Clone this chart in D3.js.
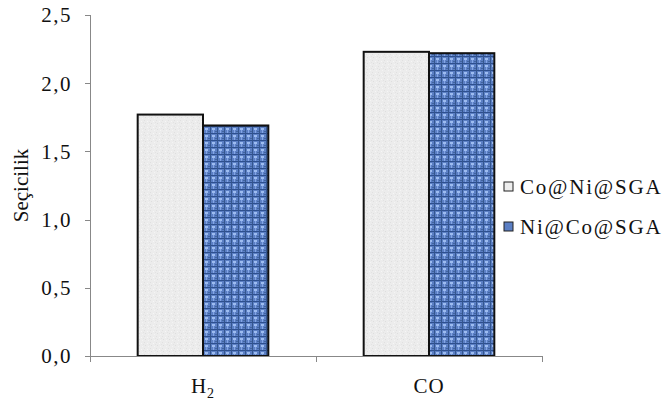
<!DOCTYPE html>
<html>
<head>
<meta charset="utf-8">
<script src="https://cdn.jsdelivr.net/npm/d3@7"></script>
<style>
  body { margin: 0; background: #fff; }
  svg text { font-family: "Liberation Serif", "Times New Roman", serif; }
</style>
</head>
<body>
<div id="chart"></div>
<script>
var categories = ['H2', 'CO'];
var seriesNames = ['Co@Ni@SGA', 'Ni@Co@SGA'];
var coNiValues = [1.77, 2.23];
var niCoValues = [1.69, 2.22];
var yTicks = [0, 0.5, 1.0, 1.5, 2.0, 2.5];

var width = 667, height = 403;
var margin = {left: 90, right: 125, top: 15, bottom: 47};

var svg = d3.select('#chart').append('svg')
    .attr('width', width)
    .attr('height', height);

// textures
var defs = svg.append('defs');
var gp = defs.append('pattern').attr('id', 'grayTex')
    .attr('patternUnits', 'userSpaceOnUse').attr('width', 6).attr('height', 6);
gp.append('rect').attr('width', 6).attr('height', 6).attr('fill', '#ececec');
[[0, 0, '#e0e0e0'], [3, 1, '#f6f6f6'], [1, 3, '#dedede'], [4, 4, '#f4f4f4'], [5, 2, '#e3e3e3']].forEach(function(d) {
  gp.append('rect').attr('x', d[0]).attr('y', d[1]).attr('width', 1).attr('height', 1).attr('fill', d[2]);
});

var bp = defs.append('pattern').attr('id', 'blueTex')
    .attr('patternUnits', 'userSpaceOnUse').attr('width', 7).attr('height', 7);
bp.append('rect').attr('width', 7).attr('height', 7).attr('fill', '#5b7fc4');
bp.append('rect').attr('x', 0).attr('y', 0).attr('width', 7).attr('height', 1).attr('fill', '#2d4f8e');
bp.append('rect').attr('x', 0).attr('y', 0).attr('width', 1).attr('height', 7).attr('fill', '#34568f');
bp.append('rect').attr('x', 2).attr('y', 2).attr('width', 3).attr('height', 2).attr('fill', '#9dbcf0');
bp.append('rect').attr('x', 3).attr('y', 4).attr('width', 1).attr('height', 3).attr('fill', '#84a6e6');
bp.append('rect').attr('x', 5).attr('y', 5).attr('width', 2).attr('height', 1).attr('fill', '#41649f');

var fills = ['url(#grayTex)', 'url(#blueTex)'];
var legendFills = ['#eeeeee', '#5b7fc4'];

var x = d3.scaleBand()
    .domain(categories)
    .range([margin.left, width - margin.right]);

var xInner = d3.scaleBand()
    .domain(seriesNames)
    .range([0, x.bandwidth()])
    .paddingInner(0)
    .paddingOuter(0.73);

var y = d3.scaleLinear()
    .domain([0, 2.5])
    .range([height - margin.bottom, margin.top]);

// axes
var axisColor = '#888';
svg.append('line')
    .attr('x1', margin.left + 0.5).attr('x2', margin.left + 0.5)
    .attr('y1', y(2.5)).attr('y2', y(0))
    .attr('stroke', axisColor);

svg.selectAll('.ytick').data(yTicks).enter().append('line')
    .attr('x1', margin.left - 5).attr('x2', margin.left)
    .attr('y1', function(d) { return Math.round(y(d)) + 0.5; })
    .attr('y2', function(d) { return Math.round(y(d)) + 0.5; })
    .attr('stroke', axisColor);

svg.selectAll('.ylab').data(yTicks).enter().append('text')
    .attr('x', 72)
    .attr('y', function(d) { return y(d); })
    .attr('dy', '0.35em')
    .attr('text-anchor', 'end')
    .attr('font-size', 21)
    .attr('letter-spacing', 1.5)
    .attr('fill', '#111')
    .text(function(d) { return d3.format('.1f')(d).replace('.', ','); });

// bars
var series = [coNiValues, niCoValues];
series.forEach(function(vals, si) {
  svg.selectAll('.bar' + si).data(categories).enter().append('rect')
      .attr('x', function(c) { return x(c) + xInner(seriesNames[si]); })
      .attr('y', function(c, i) { return y(vals[i]); })
      .attr('width', xInner.bandwidth())
      .attr('height', function(c, i) { return y(0) - y(vals[i]); })
      .attr('fill', fills[si])
      .attr('stroke', '#111')
      .attr('stroke-width', 2);
});

// x axis
svg.append('line')
    .attr('x1', margin.left).attr('x2', width - margin.right)
    .attr('y1', Math.round(y(0)) + 0.5).attr('y2', Math.round(y(0)) + 0.5)
    .attr('stroke', axisColor);

var xTickPos = [margin.left].concat(categories.map(function(c) { return x(c) + x.bandwidth(); }));
svg.selectAll('.xtick').data(xTickPos).enter().append('line')
    .attr('x1', function(d) { return Math.round(d) + 0.5; })
    .attr('x2', function(d) { return Math.round(d) + 0.5; })
    .attr('y1', y(0)).attr('y2', y(0) + 6)
    .attr('stroke', axisColor);

var xl = svg.selectAll('.xlab').data(categories).enter().append('text')
    .attr('x', function(c) { return x(c) + x.bandwidth() / 2; })
    .attr('y', y(0) + 37)
    .attr('text-anchor', 'middle')
    .attr('font-size', 21)
    .attr('letter-spacing', 1)
    .attr('fill', '#111');
xl.each(function(c) {
  var t = d3.select(this);
  if (c === 'H2') {
    t.append('tspan').text('H');
    t.append('tspan').attr('font-size', 14).attr('dy', 5).text('2');
  } else {
    t.text(c);
  }
});

// y title
svg.append('text')
    .attr('transform', 'translate(21,' + (y(1.25)) + ') rotate(-90)')
    .attr('text-anchor', 'middle')
    .attr('dy', '0.35em')
    .attr('font-size', 21)
    .attr('fill', '#111')
    .text('Seçicilik');

// legend
var legend = svg.selectAll('.legend').data(seriesNames).enter().append('g')
    .attr('transform', function(d, i) { return 'translate(504,' + (182 + i * 40) + ')'; });
legend.append('rect')
    .attr('width', 9).attr('height', 9)
    .attr('fill', function(d, i) { return legendFills[i]; })
    .attr('stroke', '#222');
legend.append('text')
    .attr('x', 16).attr('y', 5)
    .attr('dy', '0.35em')
    .attr('font-size', 21)
    .attr('letter-spacing', 1.8)
    .attr('fill', '#111')
    .text(function(d) { return d; });
</script>
</body>
</html>
